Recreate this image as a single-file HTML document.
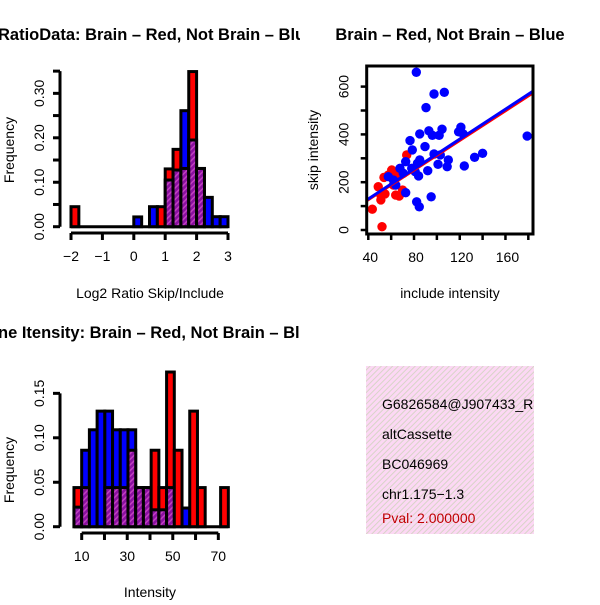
<!DOCTYPE html>
<html><head><meta charset="utf-8"><style>
body{margin:0;background:#fff}
svg text{font-family:"Liberation Sans",sans-serif}
</style></head><body>
<svg id="c" width="600" height="600" xmlns="http://www.w3.org/2000/svg">
<defs>
<pattern id="ph" width="4" height="4" patternUnits="userSpaceOnUse" patternTransform="rotate(45)">
<rect width="4" height="4" fill="#8a10a0"/><rect width="1.5" height="4" fill="#c040c0"/></pattern>
<pattern id="bh" width="4" height="4" patternUnits="userSpaceOnUse" patternTransform="rotate(45)">
<rect width="4" height="4" fill="#fcd8f4"/><rect width="1" height="4" fill="#d8d4c8"/></pattern>
<clipPath id="cl"><rect x="0" y="0" width="300" height="600"/></clipPath>
<clipPath id="ib"><rect x="366" y="366" width="168" height="168"/></clipPath>
<clipPath id="sc"><rect x="366.7" y="66" width="166.3" height="168"/></clipPath>
</defs>
<g id="root"></g>
</svg>
<script>
// Ratio histogram data (bin width 0.25)
const ratioBins=[-2,0,0.5,0.75,1.0,1.25,1.5,1.75,2.0,2.25,2.5,2.75];
const ratioRed=[0.045,0,0,0.045,0.13,0.174,0.131,0.349,0.131,0,0,0];
const ratioBlue=[0,0.022,0.045,0,0.105,0.1275,0.261,0.195,0.131,0.066,0.0225,0.0225];
const ratioXTicks=[-2,-1,0,1,2,3];
const ratioYTicks=[0,0.05,0.1,0.15,0.2,0.25,0.3,0.35];
const ratioYLabels=["0.00","","0.10","","0.20","","0.30",""];
// Intensity histogram data
const intRed=[0.044,0.044,0,0,0.044,0.044,0.044,0.086,0.044,0.044,0.086,0.044,0.174,0.086,0,0.13,0.044,0,0,0.044];
const intBlue=[0.022,0.086,0.109,0.13,0.13,0.109,0.109,0.109,0.044,0.044,0.019,0.019,0.044,0,0.021,0,0,0,0,0];
const intXTicks=[10,20,30,40,50,60,70];
const intXLabels=["10","","30","","50","","70"];
const intYTicks=[0,0.05,0.1,0.15];
const intYLabels=["0.00","0.05","0.10","0.15"];
// Scatter data
const blueX=[82,97.5,106.5,90.5,85,93,96,102,104.5,121,119,123,179,76.5,78.5,89.6,97.5,103,85,83,110,109,101,124,133,140,92,84,78,81,72.7,67.7,70.6,57.5,62,64,72.7,82.3,84.6,95];
const blueY=[660,569,576,512,402,415,396,396,422,430,411,402,393,374,335,349,318,314,293,279,293,265,275,268,304,321,248,226,258,244,286,258,237,223,209,188,156,118,97,139];
const redX=[73.6,60.5,57.5,53.7,65,67,48.7,51,54.6,51,64,67,70,43.5,52,62];
const redY=[314,251,230,220,230,251,181,146,151,126,146,142,167,87,14,188];
const redFit=[3.0,3.1];   // intercept, slope
const blueFit=[4.7,3.13];
const scXTicks=[40,60,80,100,120,140,160,180];
const scXLabels=["40","","80","","120","","160",""];
const scYTicks=[0,100,200,300,400,500,600];
const scYLabels=["0","","200","","400","","600"];

const NS="http://www.w3.org/2000/svg";
const root=document.getElementById('root');
function el(t,a,p){const e=document.createElementNS(NS,t);for(const k in a)e.setAttribute(k,a[k]);(p||root).appendChild(e);return e;}
function txt(s,a,p){const e=el('text',a,p);e.textContent=s;return e;}
const FS=14, TS=16.5;

// ---------- Panel 1 ----------
const g1=el('g',{'clip-path':'url(#cl)'});


const rx=v=>133.8+v*31.4, ry=v=>226.7-v*444.5;
function hist(g,starts,w,red,blue,xs,ys,name){
  const b=el('line',{x1:xs(starts[0]),x2:xs(starts[starts.length-1]+w),y1:ys(0),y2:ys(0),stroke:'#000','stroke-width':3},g);
  
  
  for(let i=0;i<starts.length;i++){
    const x0=xs(starts[i]),x1=xs(starts[i]+w);
    const r=red[i],bl=blue[i],mx=Math.max(r,bl),mn=Math.min(r,bl);
    if(mx>0){const e=el('rect',{x:x0,y:ys(mx),width:x1-x0,height:ys(0)-ys(mx),fill:r>=bl?'#ff0000':'#0000ff',stroke:'#000','stroke-width':3},g);
      
      }
    if(mn>0){const e=el('rect',{x:x0,y:ys(mn),width:x1-x0,height:ys(0)-ys(mn),fill:'url(#ph)',stroke:'#000','stroke-width':3},g);
      
      }
  }
}
hist(g1,ratioBins,0.25,ratioRed,ratioBlue,rx,ry,'ratio');
function yAxis(g,x,ticks,labels,ys,name){
  const a=el('g',{},g);
  el('line',{x1:x,x2:x,y1:ys(ticks[0]),y2:ys(ticks[ticks.length-1]),stroke:'#000','stroke-width':3},a);
  ticks.forEach((t,i)=>{el('line',{x1:x-7,x2:x,y1:ys(t),y2:ys(t),stroke:'#000','stroke-width':3},a);
    if(labels[i]){const y=ys(t);txt(labels[i],{x:x-16,y:y,'font-size':FS,'text-anchor':'middle',transform:`rotate(-90 ${x-16} ${y})`},a);}});
}
function xAxis(g,y,ticks,labels,xs,name){
  const a=el('g',{},g);
  el('line',{x1:xs(ticks[0]),x2:xs(ticks[ticks.length-1]),y1:y,y2:y,stroke:'#000','stroke-width':3},a);
  ticks.forEach((t,i)=>{el('line',{x1:xs(t),x2:xs(t),y1:y,y2:y+7,stroke:'#000','stroke-width':3},a);
    if(labels[i])txt(labels[i],{x:xs(t),y:y+28,'font-size':FS,'text-anchor':'middle'},a);});
}
yAxis(g1,60,ratioYTicks,ratioYLabels,ry,'ratio-y-axis');
xAxis(g1,233,ratioXTicks,ratioXTicks.map(v=>v<0?'\u2212'+(-v):''+v),rx,'ratio-x-axis');
let t=txt('RatioData: Brain \u2013 Red, Not Brain \u2013 Blue',{x:-2,y:40,'font-size':TS,'font-weight':'bold'},g1);

t=txt('Log2 Ratio Skip/Include',{x:150,y:298,'font-size':FS,'text-anchor':'middle'},g1);

t=txt('Frequency',{x:14,y:150,'font-size':FS,'text-anchor':'middle',transform:'rotate(-90 14 150)'},g1);


// ---------- Panel 3 ----------
const g3=el('g',{'clip-path':'url(#cl)'});


const ix=v=>81.7+(v-10)*2.277, iy=v=>526.7-v*889;
const intStarts=intRed.map((_,i)=>6.6+3.39*i);
hist(g3,intStarts,3.39,intRed,intBlue,ix,iy,'intensity');
yAxis(g3,60,intYTicks,intYLabels,iy,'intensity-y-axis');
xAxis(g3,533,intXTicks,intXLabels,ix,'intensity-x-axis');
t=txt('ne Itensity: Brain \u2013 Red, Not Brain \u2013 Blue',{x:-2,y:338,'font-size':TS,'font-weight':'bold'},g3);

t=txt('Intensity',{x:150,y:597,'font-size':FS,'text-anchor':'middle'},g3);

t=txt('Frequency',{x:14,y:470,'font-size':FS,'text-anchor':'middle',transform:'rotate(-90 14 470)'},g3);


// ---------- Panel 2 scatter ----------
const g2=el('g',{});


const sx=v=>368.3+(v-40)*1.143, sy=v=>230-v*0.239;
const X0=366.7,X1=533,Y0=66,Y1=234;
const gp=el('g',{'clip-path':'url(#sc)'},g2);
redX.forEach((v,i)=>{const c=el('circle',{cx:sx(v),cy:sy(redY[i]),r:4.7,fill:'#ff0000'},gp);
  });
blueX.forEach((v,i)=>{const c=el('circle',{cx:sx(v),cy:sy(blueY[i]),r:4.7,fill:'#0000ff'},gp);
  });
[[redFit,'#ff0000','red-fit-line'],[blueFit,'#0000ff','blue-fit-line']].forEach(([f,c,n])=>{
  const xa=36,xb=186;
  const l=el('line',{x1:sx(xa),y1:sy(f[0]+f[1]*xa),x2:sx(xb),y2:sy(f[0]+f[1]*xb),stroke:c,'stroke-width':3},gp);
  });
const fr=el('rect',{x:X0,y:Y0,width:X1-X0,height:Y1-Y0,fill:'none',stroke:'#000','stroke-width':3},g2);

const ya=el('g',{},g2);
scYTicks.forEach((v,i)=>{el('line',{x1:X0-6,x2:X0,y1:sy(v),y2:sy(v),stroke:'#000','stroke-width':2.5},ya);
  if(scYLabels[i])txt(scYLabels[i],{x:X0-18,y:sy(v),'font-size':FS,'text-anchor':'middle',transform:`rotate(-90 ${X0-18} ${sy(v)})`},ya);});
const xa2=el('g',{},g2);
scXTicks.forEach((v,i)=>{el('line',{x1:sx(v),x2:sx(v),y1:Y1,y2:Y1+6,stroke:'#000','stroke-width':2.5},xa2);
  if(scXLabels[i])txt(scXLabels[i],{x:sx(v)+2,y:Y1+28,'font-size':FS,'text-anchor':'middle'},xa2);});
t=txt('Brain \u2013 Red, Not Brain \u2013 Blue',{x:450,y:40,'font-size':TS,'font-weight':'bold','text-anchor':'middle'},g2);

t=txt('include intensity',{x:450,y:298,'font-size':FS,'text-anchor':'middle'},g2);

t=txt('skip intensity',{x:318,y:150,'font-size':FS,'text-anchor':'middle',transform:'rotate(-90 318 150)'},g2);


// ---------- Info box ----------
const g4=el('g',{});


el('rect',{x:366,y:366,width:168,height:168,fill:'url(#bh)'},g4);
const gi=el('g',{'clip-path':'url(#ib)'},g4);
[['G6826584@J907433_RC','#000',409,'event-id'],['altCassette','#000',439,'event-type'],['BC046969','#000',469,'accession'],['chr1.175\u22121.3','#000',499,'location'],['Pval: 2.000000','#c00000',523,'p-value']].forEach(([s,c,y,n])=>{
  const e=txt(s,{x:382,y:y,'font-size':FS,fill:c},gi);
  });
</script>
</body></html>
